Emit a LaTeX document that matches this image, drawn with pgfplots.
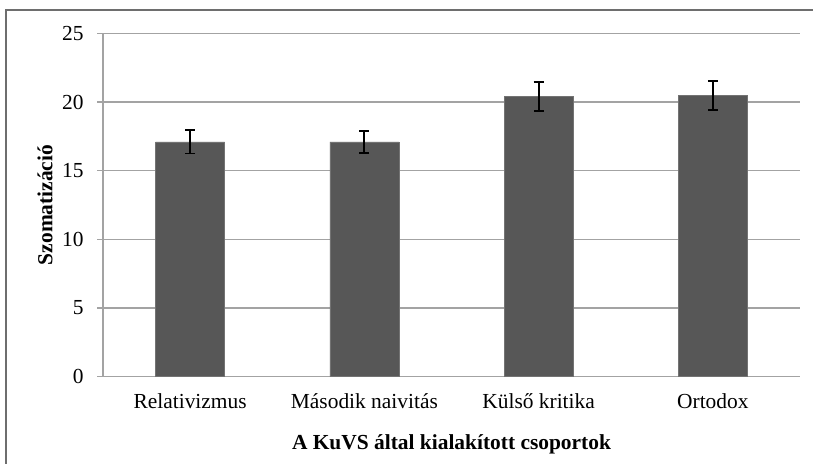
\documentclass[border=0pt]{standalone}
\usepackage{pgfplots}
\pgfplotsset{compat=1.18}
\usepackage{fontspec}
\setmainfont{Liberation Serif}
\definecolor{barfill}{HTML}{575757}
\definecolor{gridgray}{HTML}{A3A3A3}
\definecolor{framegray}{HTML}{6E6E6E}
\begin{document}
\begin{tikzpicture}[x=1bp,y=1bp]
\useasboundingbox (0,0) rectangle (813,464);
% outer chart frame
\draw[framegray, line width=1.6bp] (6,-5) -- (6,454) -- (820,454);
\begin{axis}[
  at={(103bp,87.3bp)}, anchor=south west,
  scale only axis, width=697bp, height=343.3bp,
  xmin=-0.5, xmax=3.5, ymin=0, ymax=25,
  ytick={0,5,10,15,20,25},
  xtick={0,1,2,3},
  xticklabels={Relativizmus, Második naivitás, Külső kritika, Ortodox},
  axis x line*=bottom, axis y line*=left,
  axis line style={gridgray, line width=1.3bp},
  ymajorgrids, grid style={gridgray, line width=1.3bp},
  tick align=outside,
  xtick style={draw=none},
  ytick style={gridgray, line width=1.3bp},
  major tick length=6bp,
  /pgf/number format/assume math mode=true,
  tick label style={font=\fontsize{21.5}{24}\selectfont},
  yticklabel style={anchor=east, xshift=-10bp},
  xticklabel style={anchor=center, text height=14bp, text depth=4bp, yshift=-21bp},
  ylabel={Szomatizáció},
  ylabel style={font=\bfseries\fontsize{21.5}{24}\selectfont, at={(axis description cs:-0.0832,0.5)}, anchor=center},
  xlabel={A KuVS által kialakított csoportok},
  xlabel style={font=\bfseries\fontsize{21.5}{24}\selectfont, at={(axis description cs:0.5,-0.197)}, anchor=center},
  ybar, bar width=69bp,
  clip=false,
]
\addplot[fill=barfill, draw=black!55, line width=0.6bp,
  error bars/.cd, y dir=both, y explicit,
  error bar style={black, line width=1.8bp},
  error mark options={rotate=90, mark size=5bp, line width=1.8bp, black}]
  coordinates {
    (0,17.1) +- (0,0.85)
    (1,17.1) +- (0,0.80)
    (2,20.4) +- (0,1.05)
    (3,20.5) +- (0,1.05)
  };
\end{axis}
\end{tikzpicture}
\end{document}
